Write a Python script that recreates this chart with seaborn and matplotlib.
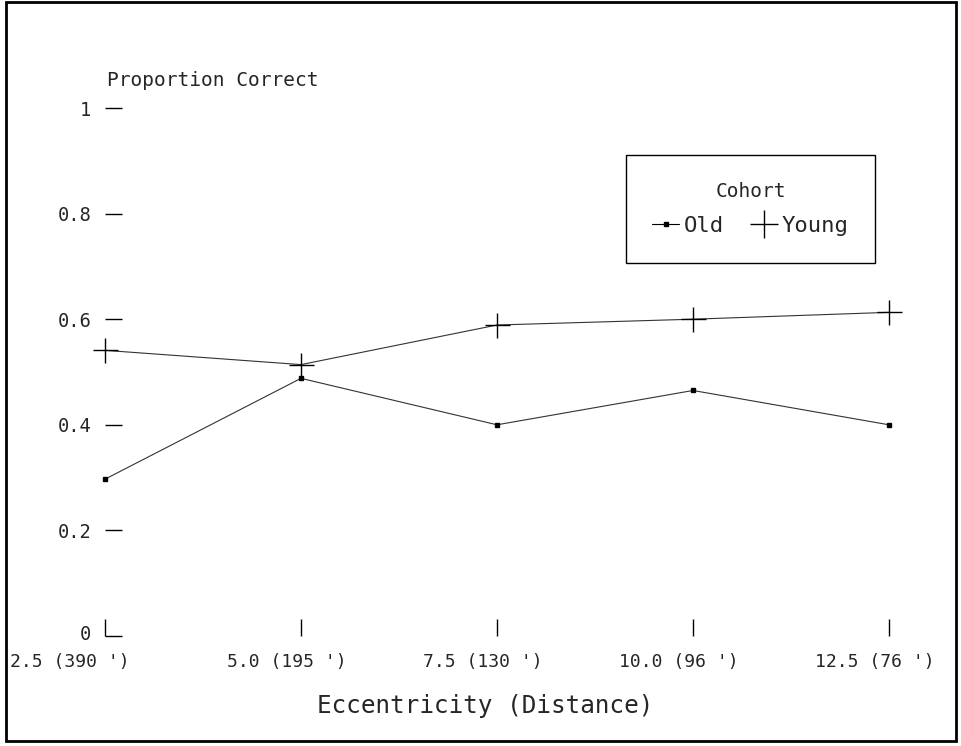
import matplotlib
matplotlib.use('Agg')
import pandas as pd
import matplotlib.pyplot as plt
import matplotlib.transforms as mtransforms
import seaborn as sns
from matplotlib.lines import Line2D
from matplotlib.patches import Rectangle

eccentricity = [2.5, 5.0, 7.5, 10.0, 12.5]
tick_labels = ["2.5 (390 ')", "5.0 (195 ')", "7.5 (130 ')", "10.0 (96 ')", "12.5 (76 ')"]
old = [0.297, 0.488, 0.400, 0.465, 0.400]
young = [0.541, 0.514, 0.589, 0.600, 0.613]

df = pd.DataFrame({
    "Eccentricity": eccentricity * 2,
    "Proportion": old + young,
    "Cohort": ["Old"] * 5 + ["Young"] * 5,
})

sns.set_style("white")
plt.rcParams['font.family'] = ['DejaVu Sans Mono', 'DejaVu Sans']

fig = plt.figure(figsize=(9.61, 7.46), dpi=100)
ax = fig.add_axes([105 / 961, 1 - 636 / 746, 784 / 961, 528 / 746])

sns.lineplot(data=df, x="Eccentricity", y="Proportion", hue="Cohort",
             palette={"Old": "#333333", "Young": "#333333"},
             linewidth=0.8, legend=False, ax=ax)

# markers drawn separately so they are not clipped at the edges
o = df[df.Cohort == "Old"]
y = df[df.Cohort == "Young"]
ax.plot(o.Eccentricity, o.Proportion, ls="none", marker="s", ms=3.5, color="black", clip_on=False)
ax.plot(y.Eccentricity, y.Proportion, ls="none", marker="+", ms=18, mew=1.0, color="black", clip_on=False)

ax.set_xlim(2.5, 12.5)
ax.set_ylim(0, 1)
for s in ax.spines.values():
    s.set_visible(False)
ax.set_xticks(eccentricity)
ax.set_xticklabels(tick_labels, fontsize=13)
ax.set_yticks([0, 0.2, 0.4, 0.6, 0.8, 1])
ax.set_yticklabels(["0", "0.2", "0.4", "0.6", "0.8", "1"], fontsize=13.5)
ax.tick_params(axis="x", direction="in", length=12, width=1, color="black", pad=12, bottom=True)
ax.tick_params(axis="y", direction="in", length=12, width=1, color="black", pad=10, left=True)
for i, lab in enumerate(ax.get_xticklabels()):
    dx = -35 if i == 0 else -14
    lab.set_transform(lab.get_transform() + mtransforms.ScaledTranslation(dx / 100, 0, fig.dpi_scale_trans))
ylabs = ax.get_yticklabels()
ylabs[0].set_transform(ylabs[0].get_transform() + mtransforms.ScaledTranslation(0, 4 / 100, fig.dpi_scale_trans))

ax.set_xlabel("")
ax.set_ylabel("")
fig.text(485 / 961, 1 - 706 / 746, "Eccentricity (Distance)", fontsize=17.5, ha="center", va="center")
fig.text(107 / 961, 1 - 80 / 746, "Proportion Correct", fontsize=14, ha="left", va="center")

handles = [
    Line2D([], [], color="black", lw=0.8, marker="s", ms=3.5),
    Line2D([], [], color="black", ls="none", marker="+", ms=20, mew=1.0),
]
leg = ax.legend(handles, ["Old", "Young"], title="Cohort", ncol=2,
                loc="upper right", bbox_to_anchor=(875 / 961, 1 - 155 / 746),
                bbox_transform=fig.transFigure, borderaxespad=0,
                fontsize=16, title_fontsize=14,
                fancybox=False, framealpha=1, edgecolor="black",
                handlelength=1.2, handletextpad=0.2, columnspacing=1.2,
                borderpad=1.2, labelspacing=0.7)
leg.get_frame().set_linewidth(1.0)

fig.patches.append(Rectangle((6 / 961, 5 / 746), 950 / 961, 739 / 746,
                             transform=fig.transFigure, fill=False,
                             edgecolor="black", linewidth=2))

fig.savefig("out.png", dpi=100)
